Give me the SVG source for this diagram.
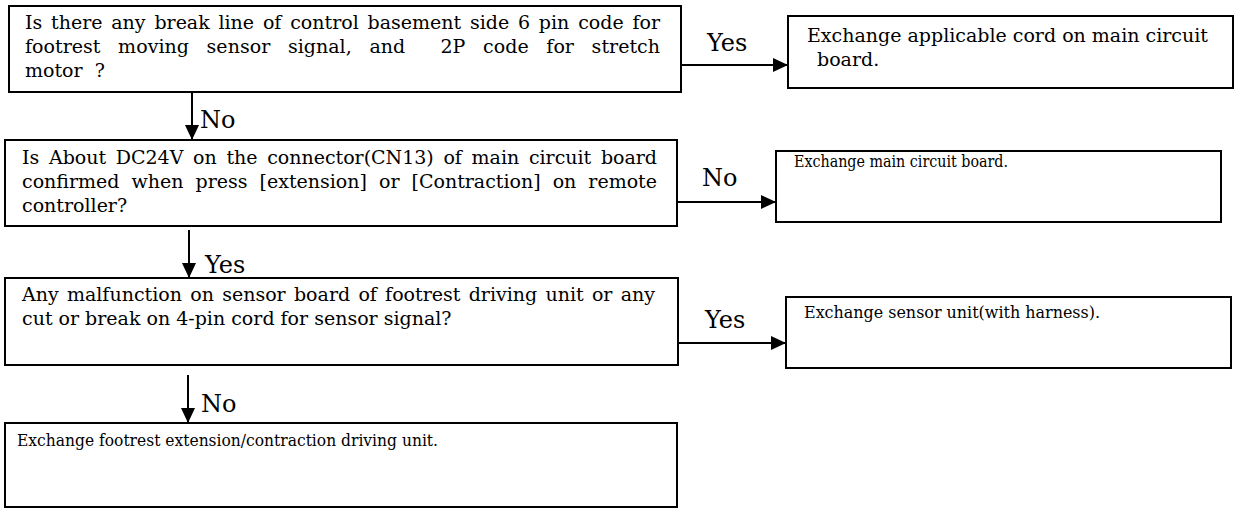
<svg xmlns="http://www.w3.org/2000/svg" width="1238" height="508" viewBox="0 0 1238 508">
<style>
.box{fill:#fff;stroke:#000;stroke-width:2}
.t{font-family:"DejaVu Serif","Liberation Serif",serif;font-size:19px;fill:#000}
.s{font-family:"DejaVu Serif","Liberation Serif",serif;font-size:16px;fill:#000}
.lbl{font-family:"DejaVu Serif","Liberation Serif",serif;font-size:24px;fill:#000}
.conn{stroke:#000;stroke-width:2;fill:none;marker-end:url(#arr)}
</style>
<defs>
<marker id="arr" viewBox="0 0 15 14" refX="15" refY="7" markerWidth="15" markerHeight="14" markerUnits="userSpaceOnUse" orient="auto">
<path d="M0,0 L15,7 L0,14 z" fill="#000"/>
</marker>
</defs>
<rect width="1238" height="508" fill="#fff"/>
<g id="q1">
<rect class="box" x="9" y="6" width="672" height="86"/>
<text class="t" x="25" y="29" word-spacing="2.8" textLength="635" lengthAdjust="spacing">Is there any break line of control basement side 6 pin code for</text>
<text class="t" x="25" y="53" xml:space="preserve" word-spacing="11.6" textLength="635" lengthAdjust="spacing">footrest moving sensor signal, and  2P code for stretch</text>
<text class="t" x="25" y="77" xml:space="preserve">motor  ?</text>
</g>
<g id="a1">
<rect class="box" x="788" y="16" width="445" height="72"/>
<text class="t" x="807" y="42">Exchange applicable cord on main circuit</text>
<text class="t" x="817" y="66">board.</text>
</g>
<g id="q2">
<rect class="box" x="5" y="140" width="672" height="86"/>
<text class="t" x="22" y="164" word-spacing="3.7" textLength="635" lengthAdjust="spacing">Is About DC24V on the connector(CN13) of main circuit board</text>
<text class="t" x="22" y="188" word-spacing="6" textLength="635" lengthAdjust="spacing">confirmed when press [extension] or [Contraction] on remote</text>
<text class="t" x="22" y="212">controller?</text>
</g>
<g id="a2">
<rect class="box" x="776" y="151" width="445" height="71"/>
<text class="s" x="794" y="167" textLength="214" lengthAdjust="spacingAndGlyphs">Exchange main circuit board.</text>
</g>
<g id="q3">
<rect class="box" x="5" y="278" width="673" height="87"/>
<text class="t" x="22" y="301" word-spacing="2.2" textLength="633" lengthAdjust="spacing">Any malfunction on sensor board of footrest driving unit or any</text>
<text class="t" x="22" y="325">cut or break on 4-pin cord for sensor signal?</text>
</g>
<g id="a3">
<rect class="box" x="786" y="297" width="445" height="71"/>
<text class="s" x="804" y="318" textLength="296" lengthAdjust="spacingAndGlyphs">Exchange sensor unit(with harness).</text>
</g>
<g id="a4">
<rect class="box" x="5" y="423" width="672" height="84"/>
<text class="s" x="17" y="446" textLength="421" lengthAdjust="spacingAndGlyphs">Exchange footrest extension/contraction driving unit.</text>
</g>
<g id="connectors">
<line class="conn" x1="681" y1="65" x2="788" y2="65"/>
<line class="conn" x1="192" y1="92" x2="192" y2="140"/>
<line class="conn" x1="677" y1="202" x2="776" y2="202"/>
<line class="conn" x1="189" y1="230" x2="189" y2="278"/>
<line class="conn" x1="678" y1="343" x2="786" y2="343"/>
<line class="conn" x1="188" y1="375" x2="188" y2="423"/>
<text class="lbl" x="707" y="51">Yes</text>
<text class="lbl" x="200" y="128">No</text>
<text class="lbl" x="702" y="186">No</text>
<text class="lbl" x="205" y="273">Yes</text>
<text class="lbl" x="705" y="328">Yes</text>
<text class="lbl" x="201" y="412">No</text>
</g>
</svg>
